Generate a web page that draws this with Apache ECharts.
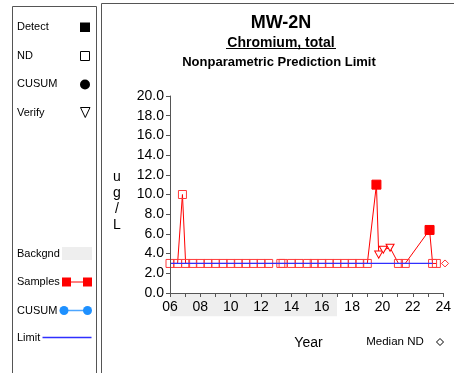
<!DOCTYPE html>
<html>
<head>
<meta charset="utf-8">
<script src="https://cdn.jsdelivr.net/npm/echarts@6/dist/echarts.min.js"></script>
<style>
html,body{margin:0;padding:0;background:#fff;}
#chart{width:454px;height:373px;}
</style>
</head>
<body>
<div id="chart"></div>
<script>
// ---- data ----
const sampleYears  = [6.0, 6.5, 6.82, 7.03, 7.5, 8.0, 8.5, 9.0, 9.5, 10.0, 10.5, 11.0, 11.5, 12.0, 12.5, 13.3, 13.45, 14.0, 14.5, 15.05, 15.5, 16.0, 16.5, 17.0, 17.5, 18.0, 18.5, 19.0, 19.6, 19.75, 20.05, 20.5, 21.05, 21.5, 23.1, 23.3, 23.55];
const sampleValues = [3, 3, 10, 3, 3, 3, 3, 3, 3, 3, 3, 3, 3, 3, 3, 3, 3, 3, 3, 3, 3, 3, 3, 3, 3, 3, 3, 3, 11, 3.9, 4.4, 4.6, 3, 3, 6.4, 3, 3];
const sampleTypes  = ['ND','ND','ND','ND','ND','ND','ND','ND','ND','ND','ND','ND','ND','ND','ND','ND','ND','ND','ND','ND','ND','ND','ND','ND','ND','ND','ND','ND','Detect','Verify','Verify','Verify','ND','ND','Detect','ND','ND'];
const limitYears   = [6.0, 23.3];
const limitValues  = [3, 3];
const backgroundYears = [6, 17];
const medianNDYear  = [24.12];
const medianNDValue = [3];
const xTickValues = [6, 8, 10, 12, 14, 16, 18, 20, 22, 24];
const xTickLabels = ['06','08','10','12','14','16','18','20','22','24'];

const FONT = 'Liberation Sans, Arial, Helvetica, sans-serif';
const RED = '#ff0000';
const BLUE = '#2f2fff';

function styleFor(t) {
  if (t === 'Detect') return {symbol:'rect', symbolSize:9, itemStyle:{color:RED, borderColor:RED, borderWidth:1}};
  if (t === 'Verify') return {symbol:'triangle', symbolSize:[8,7], symbolRotate:180, itemStyle:{color:'#ffffff', borderColor:RED, borderWidth:1}};
  return {symbol:'rect', symbolSize:8, itemStyle:{color:'rgba(255,255,255,0)', borderColor:'#ff3a3a', borderWidth:1}};
}
const sampleData = sampleYears.map((x, i) => Object.assign({value:[x, sampleValues[i]]}, styleFor(sampleTypes[i])));
const limitData = limitYears.map((x, i) => [x, limitValues[i]]);

const chart = echarts.init(document.getElementById('chart'));
chart.setOption({
  animation: false,
  backgroundColor: '#fff',
  grid: {left: 170, right: 7, top: 96, bottom: 80},
  xAxis: {
    type: 'value', min: 6, max: 24, interval: 1, z: 5,
    axisLine: {lineStyle: {color: '#555', width: 1}},
    axisTick: {length: 4, lineStyle: {color: '#555'}},
    splitLine: {show: false},
    axisLabel: {
      margin: 7, fontSize: 14, color: '#000', fontFamily: FONT,
      formatter: v => { const k = xTickValues.indexOf(v); return k >= 0 ? xTickLabels[k] : ''; }
    }
  },
  yAxis: {
    type: 'value', min: 0, max: 20, interval: 2, z: 5,
    axisLine: {show: true, lineStyle: {color: '#555', width: 1}},
    axisTick: {show: true, length: 4, lineStyle: {color: '#555'}},
    splitLine: {show: false},
    axisLabel: {margin: 6, fontSize: 14, color: '#000', fontFamily: FONT, formatter: v => v.toFixed(1)}
  },
  series: [
    {
      name: 'Backgnd', type: 'custom', z: 1, clip: false, silent: true,
      data: [[backgroundYears[0], backgroundYears[1]]],
      renderItem: (params, api) => {
        const p0 = api.coord([api.value(0), 0]);
        const p1 = api.coord([api.value(1), -2.35]);
        return {type: 'rect', shape: {x: p0[0], y: p0[1], width: p1[0] - p0[0], height: p1[1] - p0[1]}, style: {fill: '#eeeeee'}};
      }
    },
    {
      name: 'Samples', type: 'line', data: sampleData, z: 3,
      lineStyle: {color: RED, width: 1},
      itemStyle: {color: RED}
    },
    {
      name: 'Limit', type: 'line', data: limitData, z: 4, symbol: 'none',
      lineStyle: {color: BLUE, width: 1.3}
    },
    {
      name: 'Median ND', type: 'scatter', z: 4, clip: false,
      data: medianNDYear.map((x, i) => [x, medianNDValue[i]]),
      symbol: 'diamond', symbolSize: 7,
      itemStyle: {color: '#fff', borderColor: RED, borderWidth: 1}
    }
  ],
  graphic: [
    // panels
    {type:'rect', shape:{x:12.5, y:6.5, width:84, height:400}, style:{fill:'none', stroke:'#555', lineWidth:1}},
    {type:'rect', shape:{x:101.5, y:3.5, width:400, height:400}, style:{fill:'none', stroke:'#555', lineWidth:1}},
    // titles
    {type:'text', x:281, y:23, style:{text:'MW-2N', font:'bold 18px ' + FONT, fill:'#000', align:'center', verticalAlign:'middle'}},
    {type:'text', x:281, y:43, style:{text:'Chromium, total', font:'bold 14px ' + FONT, fill:'#000', align:'center', verticalAlign:'middle'}},
    {type:'line', shape:{x1:226, y1:48.5, x2:336, y2:48.5}, style:{stroke:'#000', lineWidth:1}},
    {type:'text', x:279, y:62, style:{text:'Nonparametric Prediction Limit', font:'bold 13px ' + FONT, fill:'#000', align:'center', verticalAlign:'middle'}},
    // y axis name
    {type:'text', x:117, y:201, style:{text:'u\ng\n/\nL', font:'14px ' + FONT, fill:'#000', align:'center', verticalAlign:'middle', lineHeight:16}},
    // x axis name & median ND
    {type:'text', x:308.5, y:343, style:{text:'Year', font:'14px ' + FONT, fill:'#000', align:'center', verticalAlign:'middle'}},
    {type:'text', x:395, y:342, style:{text:'Median ND', font:'11.5px ' + FONT, fill:'#000', align:'center', verticalAlign:'middle'}},
    {type:'polygon', shape:{points:[[440,338.5],[443.5,342],[440,345.5],[436.5,342]]}, style:{fill:'#fff', stroke:'#000', lineWidth:1}},
    // left legend
    {type:'text', x:17, y:27, style:{text:'Detect', font:'11px ' + FONT, fill:'#000', verticalAlign:'middle'}},
    {type:'rect', shape:{x:80, y:22.5, width:10, height:9.5}, style:{fill:'#000'}},
    {type:'text', x:17, y:56, style:{text:'ND', font:'11px ' + FONT, fill:'#000', verticalAlign:'middle'}},
    {type:'rect', shape:{x:80.5, y:51.5, width:9, height:9}, style:{fill:'#fff', stroke:'#000', lineWidth:1}},
    {type:'text', x:17, y:84, style:{text:'CUSUM', font:'11px ' + FONT, fill:'#000', verticalAlign:'middle'}},
    {type:'circle', shape:{cx:85, cy:84.5, r:5}, style:{fill:'#000'}},
    {type:'text', x:17, y:112.5, style:{text:'Verify', font:'11px ' + FONT, fill:'#000', verticalAlign:'middle'}},
    {type:'polygon', shape:{points:[[80.5,107.5],[90,107.5],[85.25,117.5]]}, style:{fill:'#fff', stroke:'#000', lineWidth:1}},
    {type:'text', x:17, y:253.5, style:{text:'Backgnd', font:'11px ' + FONT, fill:'#000', verticalAlign:'middle'}},
    {type:'rect', shape:{x:62, y:247, width:30, height:13}, style:{fill:'#eeeeee'}},
    {type:'text', x:17, y:282, style:{text:'Samples', font:'11px ' + FONT, fill:'#000', verticalAlign:'middle'}},
    {type:'line', shape:{x1:66, y1:282, x2:88, y2:282}, style:{stroke:RED, lineWidth:1}},
    {type:'rect', shape:{x:62, y:277.5, width:9, height:9}, style:{fill:RED}},
    {type:'rect', shape:{x:83, y:277.5, width:9, height:9}, style:{fill:RED}},
    {type:'text', x:17, y:310.5, style:{text:'CUSUM', font:'11px ' + FONT, fill:'#000', verticalAlign:'middle'}},
    {type:'line', shape:{x1:64, y1:310.5, x2:87.5, y2:310.5}, style:{stroke:'#4da6ff', lineWidth:1.5}},
    {type:'circle', shape:{cx:64, cy:310.5, r:4.5}, style:{fill:'#1e90ff'}},
    {type:'circle', shape:{cx:87.5, cy:310.5, r:4.5}, style:{fill:'#1e90ff'}},
    {type:'text', x:17, y:337.5, style:{text:'Limit', font:'11px ' + FONT, fill:'#000', verticalAlign:'middle'}},
    {type:'line', shape:{x1:42.5, y1:337.5, x2:91.5, y2:337.5}, style:{stroke:BLUE, lineWidth:1.3}}
  ]
});
</script>
</body>
</html>
